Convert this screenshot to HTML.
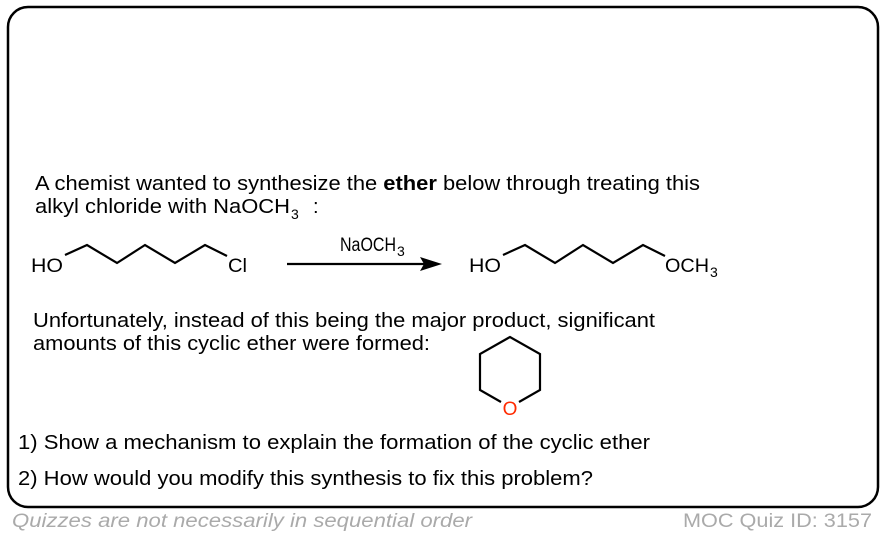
<!DOCTYPE html>
<html><head><meta charset="utf-8"><style>
html,body{margin:0;padding:0;background:#fff;}
svg{display:block;}
text{font-family:"Liberation Sans",Arial,sans-serif;}
</style></head><body>
<svg width="886" height="538" viewBox="0 0 886 538" xmlns="http://www.w3.org/2000/svg">
<rect x="8" y="7" width="870" height="500" rx="20" ry="20" fill="#fff" stroke="#000" stroke-width="2.5"/>
<g font-size="20" fill="#000">
<text x="35" y="190" textLength="665" lengthAdjust="spacingAndGlyphs">A chemist wanted to synthesize the <tspan font-weight="bold">ether</tspan> below through treating this</text>
<text x="35" y="213" textLength="255" lengthAdjust="spacingAndGlyphs">alkyl chloride with NaOCH</text>
<text x="291" y="219" font-size="14">3</text>
<text x="313" y="213">:</text>
<text x="33" y="327" textLength="622" lengthAdjust="spacingAndGlyphs">Unfortunately, instead of this being the major product, significant</text>
<text x="33" y="350" textLength="397" lengthAdjust="spacingAndGlyphs">amounts of this cyclic ether were formed:</text>
<text x="18" y="449" textLength="632" lengthAdjust="spacingAndGlyphs">1) Show a mechanism to explain the formation of the cyclic ether</text>
<text x="18" y="485" textLength="575" lengthAdjust="spacingAndGlyphs">2) How would you modify this synthesis to fix this problem?</text>
</g>
<g font-size="19" fill="#000">
<text x="31" y="272" textLength="32" lengthAdjust="spacingAndGlyphs">HO</text>
<text x="228" y="272" textLength="19" lengthAdjust="spacingAndGlyphs">Cl</text>
<text x="469" y="272" textLength="32" lengthAdjust="spacingAndGlyphs">HO</text>
<text x="665" y="272" textLength="44" lengthAdjust="spacingAndGlyphs">OCH</text>
<text x="710" y="277" font-size="14">3</text>
<text x="340" y="251" textLength="56" lengthAdjust="spacingAndGlyphs">NaOCH</text>
<text x="397" y="256" font-size="14">3</text>
</g>
<g fill="none" stroke="#000" stroke-width="2.2">
<polyline points="65,255 87,245 117,263 145,245 175,263 205,245 227,256"/>
<polyline points="503,255 525,245 555,263 583,245 613,263 643,245 665,256"/>
<polyline points="501,402 480,390 480,354 510,337 540,354 540,390 519,402"/>
<line x1="287" y1="264" x2="425" y2="264"/>
</g>
<polygon points="442,264 420,257 424,264 420,271" fill="#000"/>
<text x="510" y="415" font-size="19" fill="#ff2a00" text-anchor="middle">O</text>
<text x="12" y="527" font-size="19" font-style="italic" fill="#aaa" textLength="460" lengthAdjust="spacingAndGlyphs">Quizzes are not necessarily in sequential order</text>
<text x="683" y="527" font-size="19" fill="#aaa" textLength="189" lengthAdjust="spacingAndGlyphs">MOC Quiz ID: 3157</text>
</svg>
</body></html>
